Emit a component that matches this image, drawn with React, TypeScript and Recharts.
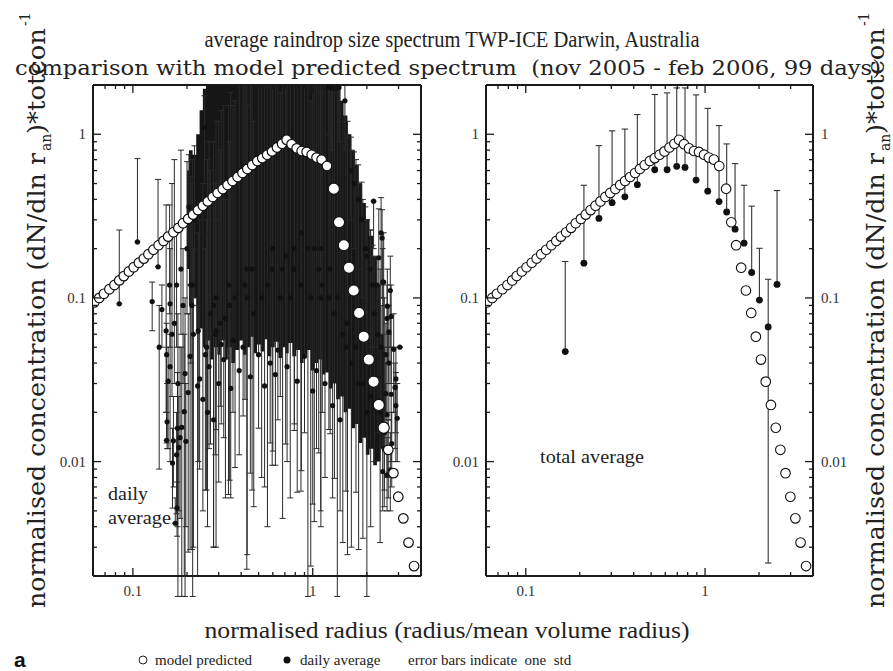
import React from "react";
import { ComposedChart, Scatter, Area, XAxis, YAxis, ErrorBar } from "recharts";

// model predicted spectrum (open circles), same in both panels
const modelX = [
  0.061, 0.065, 0.069, 0.074, 0.079, 0.084, 0.089, 0.095, 0.101, 0.108, 0.115, 0.122, 0.13, 0.139,
  0.148, 0.157, 0.168, 0.179, 0.19, 0.203, 0.216, 0.23, 0.245, 0.261, 0.278, 0.296, 0.316, 0.336,
  0.358, 0.382, 0.407, 0.433, 0.461, 0.492, 0.524, 0.558, 0.594, 0.633, 0.675, 0.716, 0.763, 0.814,
  0.868, 0.925, 0.987, 1.05, 1.12, 1.2, 1.31, 1.4, 1.49, 1.59, 1.69, 1.81, 1.92, 2.05, 2.18, 2.33,
  2.48, 2.63, 2.81, 2.99, 3.19, 3.41, 3.66,
];
const modelY = [
  0.094, 0.1, 0.106, 0.113, 0.12, 0.128, 0.136, 0.145, 0.154, 0.164, 0.174, 0.185, 0.197, 0.21,
  0.223, 0.237, 0.252, 0.268, 0.286, 0.304, 0.323, 0.344, 0.366, 0.389, 0.414, 0.438, 0.463, 0.49,
  0.518, 0.548, 0.58, 0.614, 0.649, 0.687, 0.715, 0.75, 0.786, 0.83, 0.875, 0.925, 0.87, 0.82,
  0.79, 0.78, 0.75, 0.72, 0.7, 0.64, 0.465, 0.29, 0.21, 0.153, 0.111, 0.081, 0.058, 0.042, 0.0308, 0.0222,
  0.0161, 0.0118, 0.0085, 0.0061, 0.0045, 0.0032, 0.0023,
];

// total average (right panel), error bar ends
const totalX = [0.166, 0.211, 0.256, 0.303, 0.357, 0.419, 0.524, 0.614, 0.695, 0.773, 0.891, 1.035, 1.197, 1.32, 1.47, 1.65, 1.82, 2.01, 2.25, 2.52];
const totalY = [0.047, 0.163, 0.306, 0.382, 0.415, 0.492, 0.607, 0.607, 0.637, 0.627, 0.525, 0.449, 0.388, 0.335, 0.263, 0.216, 0.143, 0.097, 0.0665, 0.121];
const totalLo = [0.047, 0.163, 0.306, 0.382, 0.415, 0.492, 0.607, 0.607, 0.637, 0.627, 0.525, 0.449, 0.388, 0.335, 0.263, 0.216, 0.143, 0.097, 0.0024, 0.121];
const totalHi = [0.167, 0.488, 0.852, 1.05, 1.076, 1.32, 1.75, 1.79, 1.92, 1.92, 1.74, 1.44, 1.13, 0.873, 0.662, 0.488, 0.364, 0.201, 0.13, 0.453];

// daily averages (left panel)
const dailyX = [
  0.084, 0.106, 0.128, 0.138, 0.14, 0.153, 0.154, 0.161, 0.161, 0.157, 0.155, 0.154, 0.166, 0.172,
  0.176, 0.177, 0.183, 0.18, 0.175, 0.168, 0.187, 0.193, 0.195, 0.203, 0.197, 0.208, 0.217, 0.229,
  0.231, 0.253, 0.281, 0.29, 0.327, 0.17, 0.175, 0.185, 0.19, 0.2, 0.21, 0.22, 0.16, 0.205, 0.25,
  0.178, 0.165, 0.145,
  0.27, 0.29, 0.287, 0.306, 0.281, 0.34, 0.345, 0.37, 0.42, 0.43, 0.432, 0.46, 0.47, 0.595, 0.6,
  0.66, 0.707, 0.79, 0.79, 0.86, 0.865, 0.94, 0.975, 1.02, 1.08, 1.11, 1.108, 1.13, 1.23, 1.25,
  1.32, 1.37, 1.47, 1.53, 1.56, 1.64, 1.74, 1.8, 1.9, 2.0, 2.1, 2.37, 2.5, 2.5, 0.215, 0.257,
  0.213, 0.56, 0.52, 0.75, 0.68,
  1.27, 1.4, 1.51, 1.23, 1.63, 1.7, 1.79, 1.87, 1.96, 2.0, 2.09, 2.15, 2.18, 2.28, 2.33, 2.4, 2.43,
  2.48, 2.45, 2.59, 2.6, 2.7, 2.73, 3.05, 2.82, 2.9, 2.87, 2.9, 2.95, 2.73, 2.75, 2.59, 2.63, 2.7,
  2.59, 2.45, 2.55, 2.65, 2.4, 2.3, 2.2, 2.55, 2.65,
  0.235, 0.245, 0.265, 0.3, 0.32, 0.35, 0.39, 0.41, 0.45, 0.5, 0.54, 0.58, 0.62, 0.64, 0.72, 0.82,
  0.9, 1.0, 1.05, 1.17, 1.29, 1.42, 0.36, 0.26, 0.31,
];
const dailyY = [
  0.092, 0.22, 0.095, 0.155, 0.05, 0.063, 0.045, 0.092, 0.038, 0.031, 0.0175, 0.0135, 0.0098, 0.0042,
  0.0052, 0.016, 0.014, 0.0122, 0.011, 0.0134, 0.0162, 0.0202, 0.0345, 0.0264, 0.0133, 0.044, 0.06, 0.029,
  0.063, 0.045, 0.018, 0.063, 0.075, 0.07, 0.12, 0.15, 0.09, 0.2, 0.12, 0.3, 0.12, 0.36, 1.1,
  0.03, 0.06, 0.085,
  0.08, 0.1, 0.06, 0.07, 0.09, 0.12, 0.09, 0.1, 0.12, 0.15, 0.1, 0.15, 0.08, 0.15, 0.2,
  0.1, 0.18, 0.2, 0.15, 0.12, 0.25, 0.2, 0.1, 0.2, 0.15, 0.1, 0.2, 0.12, 0.1, 0.15,
  0.08, 0.1, 0.06, 0.05, 0.07, 0.04, 0.05, 0.03, 0.03, 0.02, 0.025, 0.02, 0.015, 0.012, 0.12, 0.05,
  0.09, 0.12, 0.1, 0.1, 0.15,
  1.92, 1.93, 1.6, 1.95, 0.6, 0.5, 0.4, 0.3, 0.2, 0.18, 0.15, 0.12, 0.39, 0.12, 0.176, 0.25, 0.232,
  0.125, 0.125, 0.075, 0.089, 0.111, 0.077, 0.05, 0.0485, 0.032, 0.0284, 0.022, 0.0184, 0.0258, 0.0129, 0.0193, 0.0117, 0.0089,
  0.0083, 0.0087, 0.045, 0.04, 0.05, 0.06, 0.08, 0.026, 0.062,
  0.032, 0.024, 0.038, 0.03, 0.042, 0.028, 0.036, 0.05, 0.033, 0.045, 0.029, 0.04, 0.034, 0.048, 0.038, 0.031,
  0.044, 0.027, 0.036, 0.03, 0.022, 0.018, 0.055, 0.02, 0.052,
];
const dailyLo = [
  0.092, 0.22, 0.063, 0.155, 0.009, 0.02, 0.013, 0.05, 0.01, 0.012, 0.012, 0.0135, 0.0052, 0.0042,
  0.0035, 0.004, 0.0045, 0.005, 0.0048, 0.007, 0.0015, 0.002, 0.0015, 0.0028, 0.004, 0.0029, 0.003, 0.002,
  0.01, 0.0067, 0.003, 0.003, 0.006, 0.03, 0.05, 0.06, 0.03, 0.08, 0.04, 0.1, 0.08, 0.2, 0.5,
  0.0015, 0.025, 0.05,
  0.0128, 0.0157, 0.011, 0.0218, 0.003, 0.0063, 0.0077, 0.0092, 0.024, 0.0022, 0.0027, 0.0067, 0.0053, 0.0095, 0.0116,
  0.025, 0.0128, 0.017, 0.0155, 0.0066, 0.0088, 0.0015, 0.0023, 0.0043, 0.0113, 0.004, 0.005, 0.02, 0.0157, 0.0148,
  0.0079, 0.0015, 0.0032, 0.0066, 0.0027, 0.003, 0.0065, 0.0029, 0.0034, 0.0015, 0.004, 0.0032, 0.0053, 0.0067, 0.0015, 0.0067,
  0.0029, 0.004, 0.008, 0.006, 0.0045,
  0.8, 0.9, 0.8, 1, 0.3, 0.2, 0.15, 0.1, 0.08, 0.06, 0.05, 0.04, 0.2, 0.05, 0.1, 0.12, 0.1,
  0.05, 0.06, 0.03, 0.04, 0.05, 0.03, 0.05, 0.02, 0.015, 0.012, 0.01, 0.01, 0.01, 0.007, 0.008, 0.006, 0.005,
  0.005, 0.005, 0.02, 0.018, 0.02, 0.015, 0.01, 0.012, 0.03,
  0.009, 0.005, 0.012, 0.0075, 0.014, 0.006, 0.011, 0.019, 0.0085, 0.016, 0.007, 0.013, 0.0095, 0.018, 0.01, 0.0065,
  0.015, 0.0055, 0.012, 0.008, 0.006, 0.005, 0.02, 0.004, 0.017,
];
const dailyHi = [
  0.26, 0.71, 0.125, 0.53, 0.09, 0.37, 0.07, 0.2, 0.06, 0.05, 0.03, 0.02, 0.016, 0.006,
  0.0075, 0.035, 0.05, 0.025, 0.02, 0.025, 0.05, 0.06, 0.1, 0.08, 0.03, 0.12, 0.2, 0.09,
  0.25, 0.2, 0.06, 0.3, 0.4, 0.7, 0.25, 0.8, 0.2, 0.68, 0.55, 0.85, 0.37, 0.75, 1.72,
  0.08, 0.5, 0.12,
  0.6, 1.2, 0.5, 0.8, 0.9, 1.5, 0.9, 1.6, 2, 2, 1.5, 2, 1.2, 2, 2,
  1.8, 2, 2, 2, 2, 2, 2, 1.6, 2, 2, 1.8, 2, 2, 2, 2,
  1.8, 2, 1.2, 1.0, 1.2, 0.8, 0.7, 0.5, 0.4, 0.3, 0.26, 0.15, 0.1, 0.05, 0.7, 0.3,
  0.5, 2, 2, 2, 2,
  2, 2, 2, 2, 0.96, 0.78, 0.65, 0.51, 0.36, 0.3, 0.26, 0.21, 0.39, 0.176, 0.35, 0.41, 0.346,
  0.25, 0.2, 0.12, 0.15, 0.18, 0.12, 0.05, 0.08, 0.05, 0.04, 0.035, 0.03, 0.05, 0.02, 0.03, 0.018, 0.015,
  0.014, 0.015, 0.07, 0.06, 0.09, 0.12, 0.18, 0.04, 0.09,
  0.3, 0.5, 0.9, 1.2, 1.5, 1.8, 2, 2, 2, 2, 2, 2, 2, 2, 2, 2,
  2, 2, 2, 2, 2, 2, 1.5, 0.7, 1.4,
];

// solid mass of overlapping daily error bars: lower and upper ends per radius bin
const coreX = [
  0.2, 0.21, 0.22, 0.23, 0.24, 0.25, 0.26, 0.275, 0.29, 0.3, 0.315, 0.33, 0.345, 0.36, 0.38, 0.4,
  0.42, 0.44, 0.46, 0.48, 0.5, 0.525, 0.55, 0.575, 0.6, 0.63, 0.66, 0.69, 0.72, 0.75, 0.79, 0.83,
  0.87, 0.91, 0.95, 1.0, 1.05, 1.1, 1.15, 1.2, 1.26, 1.32, 1.38, 1.45, 1.52, 1.6, 1.68, 1.76,
  1.84, 1.93, 2.02, 2.12, 2.22, 2.33, 2.44, 2.55,
];
const coreLo = [
  0.15, 0.09, 0.1, 0.06, 0.065, 0.05, 0.055, 0.042, 0.05, 0.045, 0.055, 0.042, 0.05, 0.04, 0.048, 0.055,
  0.045, 0.05, 0.058, 0.046, 0.052, 0.047, 0.056, 0.044, 0.05, 0.054, 0.043, 0.05, 0.046, 0.053, 0.044, 0.048,
  0.04, 0.045, 0.048, 0.036, 0.04, 0.042, 0.034, 0.035, 0.028, 0.03, 0.024, 0.025, 0.02, 0.021, 0.016, 0.017,
  0.013, 0.014, 0.011, 0.012, 0.0095, 0.01, 0.012, 0.02,
];
const coreHi = [
  0.6, 0.8, 0.75, 1.0, 1.4, 1.9, 2.1, 2.1, 2.1, 2.1, 2.1, 2.1, 2.1, 2.1, 2.1, 2.1,
  2.1, 2.1, 2.1, 2.1, 2.1, 2.1, 2.1, 2.1, 2.1, 2.1, 2.1, 2.1, 2.1, 2.1, 2.1, 2.1,
  2.1, 2.1, 2.1, 2.1, 2.1, 2.1, 2.1, 2.1, 2.1, 2.1, 2.1, 1.6, 1.3, 1.0, 0.8, 0.65,
  0.5, 0.38, 0.3, 0.24, 0.18, 0.12, 0.06, 0.03,
];

const xMajor = [0.1, 1];
const xTicks = [0.07, 0.08, 0.09, 0.1, 0.2, 0.3, 0.4, 0.5, 0.6, 0.7, 0.8, 0.9, 1, 2, 3];
const yMajor = [0.01, 0.1, 1];
const yTicks = [
  0.003, 0.004, 0.005, 0.006, 0.007, 0.008, 0.009, 0.01, 0.02, 0.03, 0.04, 0.05, 0.06, 0.07, 0.08,
  0.09, 0.1, 0.2, 0.3, 0.4, 0.5, 0.6, 0.7, 0.8, 0.9, 1,
];

const model = modelX.map((x, i) => ({ x, y: modelY[i] }));
const total = totalX.map((x, i) => ({ x, y: totalY[i], err: [totalY[i] - totalLo[i], totalHi[i] - totalY[i]] }));
const daily = dailyX.map((x, i) => ({ x, y: dailyY[i], err: [dailyY[i] - dailyLo[i], dailyHi[i] - dailyY[i]] }));
const core = coreX.map((x, i) => ({ x, band: [coreLo[i], coreHi[i]] }));

const serif = "'Liberation Serif', 'DejaVu Serif', serif";
const wide = "'DejaVu Serif', serif";
const ink = "#1a1a1a";

function AxisTick(props: any) {
  const { x, y, payload, side, labels, majors } = props;
  const v = payload.value;
  const major = majors.includes(v);
  const len = major ? 8 : 4;
  const lab = labels && major;
  let line;
  let text = null;
  if (side === "left") {
    line = <line x1={x} y1={y} x2={x + len} y2={y} stroke={ink} strokeWidth={1.3} />;
    if (lab) text = <text x={x - 7} y={y + 5} textAnchor="end" fontSize={15} fill="#333" fontFamily={serif}>{String(v)}</text>;
  } else if (side === "right") {
    line = <line x1={x} y1={y} x2={x - len} y2={y} stroke={ink} strokeWidth={1.3} />;
    if (lab) text = <text x={x + 8} y={y + 5} textAnchor="start" fontSize={15} fill="#333" fontFamily={serif}>{String(v)}</text>;
  } else if (side === "top") {
    line = <line x1={x} y1={y} x2={x} y2={y + len} stroke={ink} strokeWidth={1.3} />;
  } else {
    line = <line x1={x} y1={y} x2={x} y2={y - len} stroke={ink} strokeWidth={1.3} />;
    if (lab) text = <text x={x} y={y + 20} textAnchor="middle" fontSize={15} fill="#333" fontFamily={serif}>{String(v)}</text>;
  }
  return (
    <g>
      {line}
      {text}
    </g>
  );
}

const axisLine = { stroke: ink, strokeWidth: 2 };

function frameAxes(leftW: number, rightW: number, rightLabels: boolean) {
  return [
    <XAxis key="xb" xAxisId="b" type="number" dataKey="x" scale="log" domain={[0.06, 4]} allowDataOverflow
      orientation="bottom" height={24} ticks={xTicks} interval={0} tickSize={0} tickMargin={0}
      tickLine={false} axisLine={axisLine}
      tick={(p: any) => <AxisTick {...p} side="bottom" labels majors={xMajor} />} />,
    <XAxis key="xt" xAxisId="t" type="number" dataKey="x" scale="log" domain={[0.06, 4]} allowDataOverflow
      orientation="top" height={20} ticks={xTicks} interval={0} tickSize={0} tickMargin={0}
      tickLine={false} axisLine={axisLine}
      tick={(p: any) => <AxisTick {...p} side="top" labels={false} majors={xMajor} />} />,
    <YAxis key="yl" yAxisId="l" type="number" dataKey="y" scale="log" domain={[0.002, 2]} allowDataOverflow
      orientation="left" width={leftW} ticks={yTicks} interval={0} tickSize={0} tickMargin={0}
      tickLine={false} axisLine={axisLine}
      tick={(p: any) => <AxisTick {...p} side="left" labels majors={yMajor} />} />,
    <YAxis key="yr" yAxisId="r" type="number" dataKey="y" scale="log" domain={[0.002, 2]} allowDataOverflow
      orientation="right" width={rightW} ticks={yTicks} interval={0} tickSize={0} tickMargin={0}
      tickLine={false} axisLine={axisLine}
      tick={(p: any) => <AxisTick {...p} side="right" labels={rightLabels} majors={yMajor} />} />,
  ];
}

const dot = (r: number) => (p: any) => <circle cx={p.cx} cy={p.cy} r={r} fill="#111" />;

const leftRing = (p: any) => {
  const big = p.payload.x > 1.25 && p.payload.x < 2.55;
  return <circle cx={p.cx} cy={p.cy} r={big ? 5.6 : 4.8} fill="#fff" stroke="#111" strokeWidth={1.2} />;
};
const rightRing = (p: any) => <circle cx={p.cx} cy={p.cy} r={4.8} fill="#fff" stroke="#111" strokeWidth={1.1} />;

// rotated y axis title, drawn in pieces so the sub/superscripts sit right
function YTitle({ x }: { x: number }) {
  return (
    <g transform={`translate(${x},608) rotate(-90)`} fontSize={25} fontFamily={wide} fill="#222">
      <text x={0} y={0} textLength={455} lengthAdjust="spacingAndGlyphs">normalised concentration (dN/dln r</text>
      <text x={457} y={6} fontSize={14}>an</text>
      <text x={474} y={0} textLength={106} lengthAdjust="spacingAndGlyphs">)*totcon</text>
      <text x={582} y={-15} fontSize={14}>-1</text>
    </g>
  );
}

export default function App() {
  return (
    <div style={{ position: "absolute", left: 0, top: 0, width: 893, height: 671, background: "#fff" }}>
      <div style={{ position: "absolute", left: 0, top: 0 }}>
        <ComposedChart width={440} height={600} data={core} margin={{ top: 65, right: 0, bottom: 0, left: 43 }}>
          {frameAxes(50, 19, false)}
          <Area xAxisId="b" yAxisId="l" dataKey="band" type="step" fill="#161616" fillOpacity={1}
            stroke="none" isAnimationActive={false} />
          <Scatter xAxisId="b" yAxisId="l" data={daily} shape={dot(2.6)} isAnimationActive={false}>
            <ErrorBar dataKey="err" direction="y" width={3} stroke="#2a2a2a" strokeWidth={1} />
          </Scatter>
          <Scatter xAxisId="b" yAxisId="l" data={model} shape={leftRing} isAnimationActive={false} />
        </ComposedChart>
      </div>
      <div style={{ position: "absolute", left: 440, top: 0 }}>
        <ComposedChart width={453} height={600} margin={{ top: 65, right: 0, bottom: 0, left: 0 }}>
          {frameAxes(46, 80, true)}
          <Scatter xAxisId="b" yAxisId="l" data={total} shape={dot(3.4)} isAnimationActive={false}>
            <ErrorBar dataKey="err" direction="y" width={3.2} stroke="#333" strokeWidth={1.1} />
          </Scatter>
          <Scatter xAxisId="b" yAxisId="l" data={model} shape={rightRing} isAnimationActive={false} />
        </ComposedChart>
      </div>
      <svg width={893} height={671} style={{ position: "absolute", left: 0, top: 0, pointerEvents: "none" }}
        fontFamily={serif} fill="#222">
        <text x={452} y={47} textAnchor="middle" fontSize={23} textLength={495} lengthAdjust="spacingAndGlyphs">
          average raindrop size spectrum TWP-ICE Darwin, Australia
        </text>
        <text x={448} y={75} textAnchor="middle" fontSize={21} fontFamily={wide} textLength={866}
          lengthAdjust="spacingAndGlyphs">
          {"comparison with model predicted spectrum \u00a0(nov 2005 - feb 2006, 99 days)"}
        </text>
        <YTitle x={45} />
        <YTitle x={884} />
        <text x={447} y={638} textAnchor="middle" fontSize={24} textLength={485} lengthAdjust="spacingAndGlyphs">
          normalised radius (radius/mean volume radius)
        </text>
        <text x={108} y={500} fontSize={19} textLength={40} lengthAdjust="spacingAndGlyphs">daily</text>
        <text x={108} y={524} fontSize={19} textLength={63} lengthAdjust="spacingAndGlyphs">average</text>
        <text x={540} y={463} fontSize={19} textLength={104} lengthAdjust="spacingAndGlyphs">total average</text>
        <text x={14} y={667} fontSize={21} fontWeight="bold" fontFamily="'Liberation Sans', Arial, sans-serif" fill="#111">a</text>
        <circle cx={143} cy={660} r={4} fill="#fff" stroke="#222" strokeWidth={1} />
        <text x={155} y={665} fontSize={15}>model predicted</text>
        <circle cx={287} cy={660} r={3.5} fill="#111" />
        <text x={300} y={665} fontSize={15}>daily average</text>
        <text x={408} y={665} fontSize={15}>{"error bars indicate \u00a0one \u00a0std"}</text>
      </svg>
    </div>
  );
}
